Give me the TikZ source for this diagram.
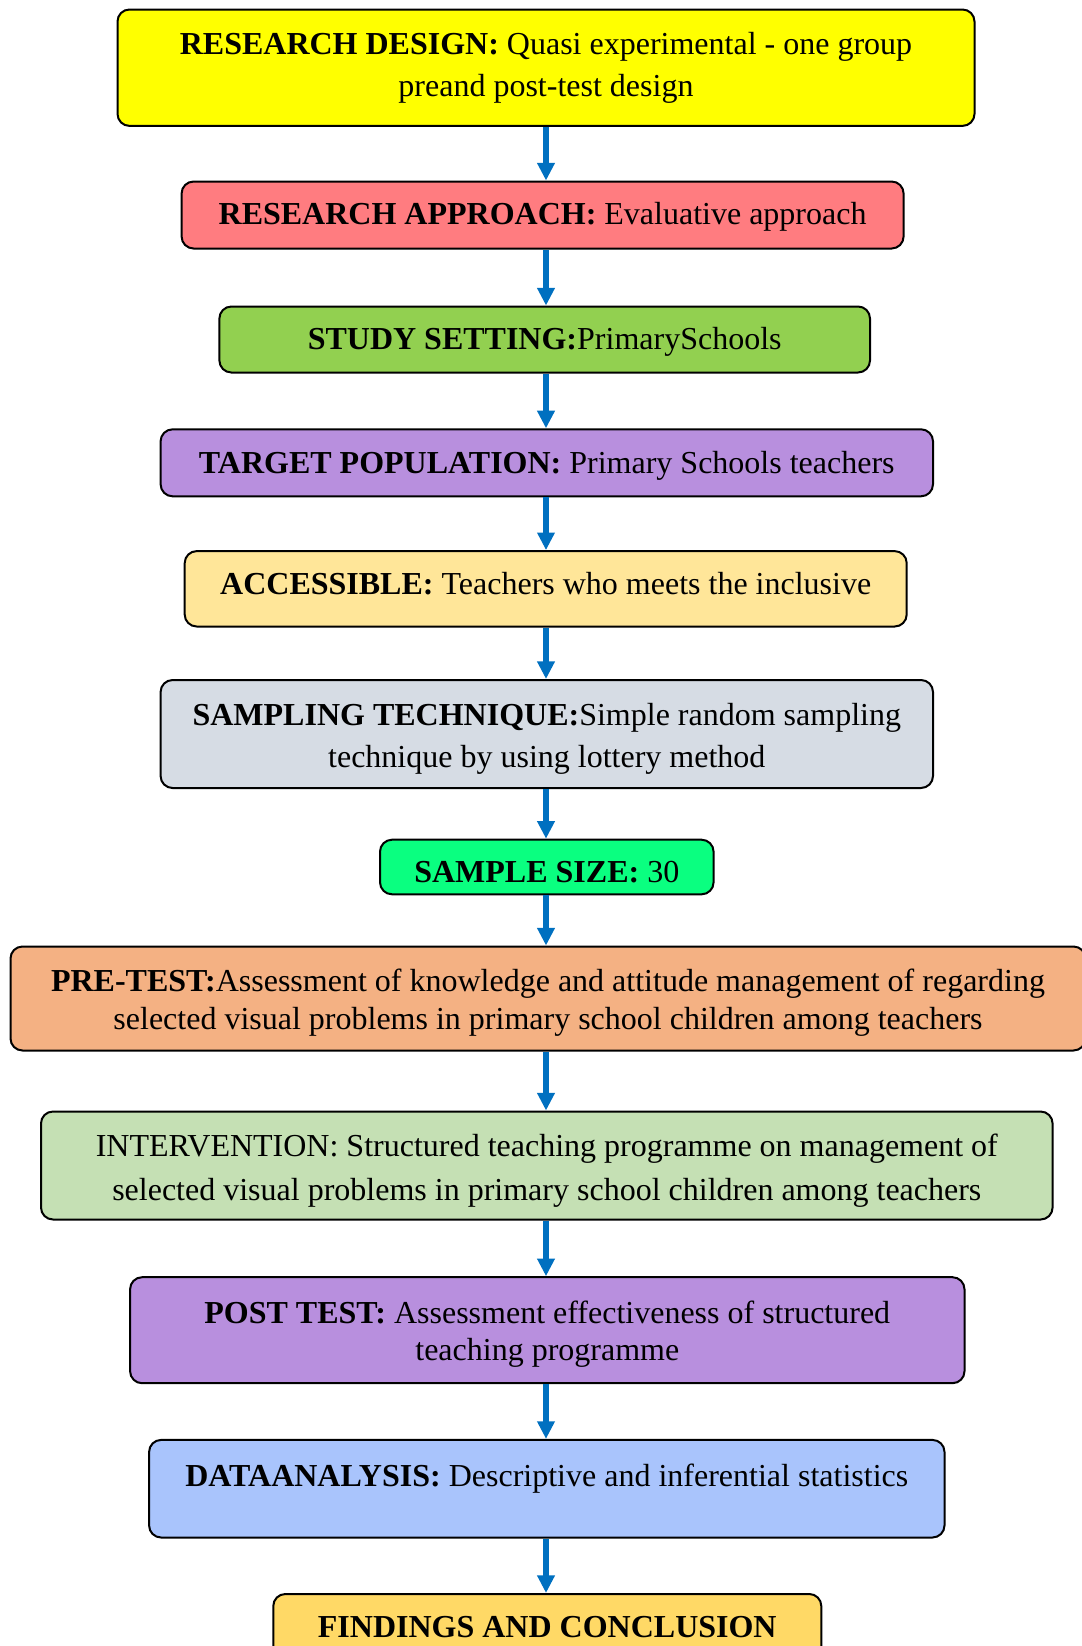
\documentclass[tikz,border=0pt]{standalone}
\usepackage{fontspec}
\setmainfont{Liberation Serif}
\usepackage{tikz}
\usetikzlibrary{arrows.meta}

\definecolor{cdesign}{HTML}{FFFF00}
\definecolor{capproach}{HTML}{FF7C80}
\definecolor{csetting}{HTML}{92D050}
\definecolor{cpurple}{HTML}{B88FDE}
\definecolor{caccess}{HTML}{FFE699}
\definecolor{csampling}{HTML}{D6DCE4}
\definecolor{csize}{HTML}{0AFF80}
\definecolor{cpretest}{HTML}{F4B183}
\definecolor{cinterv}{HTML}{C5E0B4}
\definecolor{canalysis}{HTML}{A9C4FC}
\definecolor{cfindings}{HTML}{FFD966}
\definecolor{carrow}{HTML}{0070C0}

\tikzset{
	box/.style={draw=black, line width=1pt, rounded corners=6pt, align=center,
		inner xsep=0pt, font=\fontsize{16}{21}\selectfont},
	flow/.style={draw=carrow, line width=2.6pt,
		-{Triangle[length=8.8pt,width=8.4pt]}}
}

\begin{document}
\begin{tikzpicture}[x=0.5pt,y=0.5pt]
	
	\useasboundingbox (0,0) rectangle (1082,-1646);
	\begin{scope}
	\clip (0,0) rectangle (1082,-1646);
	
	\node[box, fill=cdesign, minimum width=428.5pt, minimum height=58.2pt] (design) at (546,-67.7)
		{\textbf{RESEARCH DESIGN:} Quasi experimental - one group\\preand post-test design};
	\node[box, fill=capproach, minimum width=361pt, minimum height=33.5pt, text height=12.9pt, text depth=3.5pt] (approach) at (542.6,-215)
		{\textbf{RESEARCH APPROACH:} Evaluative approach};
	\node[box, fill=csetting, minimum width=325.3pt, minimum height=33pt, text height=13.3pt, text depth=3.5pt] (setting) at (544.7,-339.5)
		{\textbf{STUDY SETTING:}PrimarySchools};
	\node[box, fill=cpurple, minimum width=386.2pt, minimum height=33.5pt, text height=14.1pt, text depth=3.5pt] (target) at (546.8,-462.8)
		{\textbf{TARGET POPULATION:} Primary Schools teachers};
	\node[box, fill=caccess, minimum width=361pt, minimum height=37.7pt, text height=14.2pt, text depth=8.5pt] (access) at (545.7,-588.8)
		{\textbf{ACCESSIBLE:} Teachers who meets the inclusive};
	\node[box, fill=csampling, minimum width=386.2pt, minimum height=54pt, text height=37.1pt, text depth=3.5pt] (sampling) at (546.8,-734)
		{\textbf{SAMPLING TECHNIQUE:}Simple random sampling\\technique by using lottery method};
	\node[box, fill=csize, minimum width=166.8pt, minimum height=27.3pt, text height=15.6pt, text depth=0pt] (size) at (546.8,-867)
		{\textbf{SAMPLE SIZE:} 30};
	\node[box, fill=cpretest, minimum width=537.5pt, minimum height=52pt, font=\fontsize{16}{19}\selectfont, text height=34.1pt, text depth=3.5pt] (pretest) at (548,-998.5)
		{\textbf{PRE-TEST:}Assessment of knowledge and attitude management of regarding\\selected visual problems in primary school children among teachers};
	\node[box, fill=cinterv, minimum width=505.8pt, minimum height=54pt, font=\fontsize{16}{22}\selectfont, text height=38.1pt, text depth=3.5pt] (interv) at (546.8,-1165.5)
		{INTERVENTION: Structured teaching programme on management of\\selected visual problems in primary school children among teachers};
	\node[box, fill=cpurple, minimum width=417.2pt, minimum height=53pt, font=\fontsize{16}{18.4}\selectfont, text height=33.5pt, text depth=3.5pt] (posttest) at (547.3,-1330.2)
		{\textbf{POST TEST:} Assessment effectiveness of structured\\teaching programme};
	\node[box, fill=canalysis, minimum width=397.7pt, minimum height=48.8pt, text height=12pt, text depth=14pt] (analysis) at (546.8,-1488.7)
		{\textbf{DATAANALYSIS:} Descriptive and inferential statistics};
	\node[box, fill=cfindings, minimum width=274pt, minimum height=33.5pt] (findings) at (547.3,-1627.5)
		{\textbf{FINDINGS AND CONCLUSION}};
	
	\foreach \a/\b in {design/approach, approach/setting, setting/target, target/access,
		access/sampling, sampling/size, size/pretest, pretest/interv, interv/posttest,
		posttest/analysis, analysis/findings}
		\draw[flow] (\a.south -| design.south) -- (\b.north -| design.south);
	
	\end{scope}
	
\end{tikzpicture}
\end{document}
